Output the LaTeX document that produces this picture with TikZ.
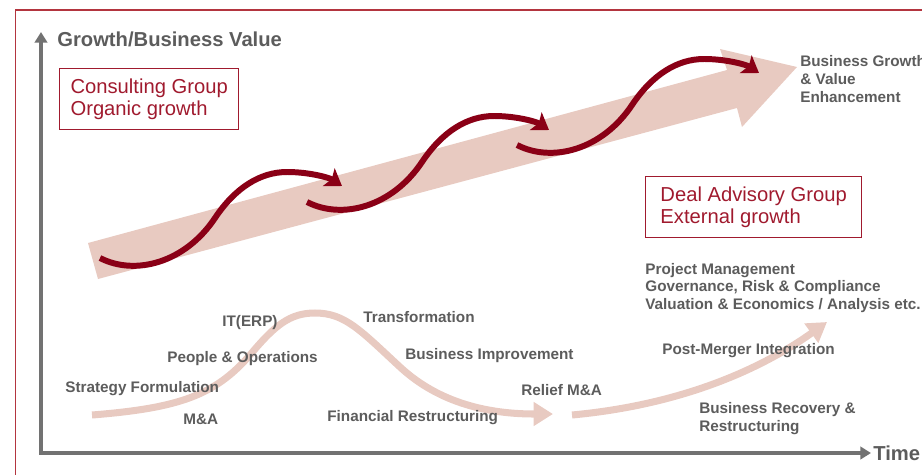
\documentclass[tikz,border=0pt]{standalone}
\usepackage{fontspec}
\setmainfont{Liberation Sans}
\usepackage{xcolor}
\usepackage{tikz}
\usetikzlibrary{positioning,arrows.meta}
\definecolor{wine}{HTML}{8A0016}
\definecolor{blush}{HTML}{E8CAC1}
\definecolor{framered}{HTML}{B3353F}
\definecolor{boxred}{HTML}{A01A2E}
\definecolor{axisgray}{HTML}{727272}
\definecolor{labelgray}{HTML}{5C5C5C}

\begin{document}
\begin{tikzpicture}[x=0.02cm, y=-0.02cm,
  lbl/.style={text=labelgray, font=\fontsize{8.7}{10}\selectfont\bfseries, inner sep=0pt, align=left, anchor=west},
  axisname/.style={text=labelgray, font=\fontsize{11.5}{13}\selectfont\bfseries, inner sep=0pt, anchor=west},
  groupbox/.style={draw=boxred, text=boxred, line width=0.8pt, font=\fontsize{11.5}{13}\selectfont, align=left, minimum height=1.22cm, anchor=north west},
  wave/.style={draw=wine, line width=3.4pt, -{Stealth[length=9pt,width=12pt,inset=2pt]}},
  trend/.style={draw=blush, line width=4pt, -{Triangle[length=11pt,width=13pt]}}]
\useasboundingbox (0,0) rectangle (922,474);

% frame and axes
\draw[framered, line width=0.9pt] (15.5,480) -- (15.5,10) -- (930,10);
\coordinate (orig) at (41,453);
\coordinate (ytop) at (41,32);
\coordinate (xend) at (871,453);
\draw[axisgray, line width=2.3pt, {Triangle[length=6pt,width=7pt]}-{Triangle[length=6pt,width=7pt]}] (ytop) -- (orig) -- (xend);

% big growth arrow
\fill[blush] (88,243) -- (727,70) -- (720,49) -- (797,67) -- (742,127) -- (737,108) -- (98,279) -- cycle;

% waves on top of it
\begin{scope}[shift={(100,258)}]
\draw[wave] (0,0) .. controls (35,18) and (85,5) .. (115,-40) .. controls (135,-70) and (160,-86) .. (187,-86) .. controls (210,-86) and (230,-80) .. (242,-72);
\end{scope}
\begin{scope}[shift={(307,202)}]
\draw[wave] (0,0) .. controls (35,18) and (85,5) .. (115,-40) .. controls (135,-70) and (160,-86) .. (187,-86) .. controls (210,-86) and (230,-80) .. (242,-72);
\end{scope}
\begin{scope}[shift={(517,145)}]
\draw[wave] (0,0) .. controls (35,18) and (85,5) .. (115,-40) .. controls (135,-70) and (160,-86) .. (187,-86) .. controls (210,-86) and (230,-80) .. (242,-72);
\end{scope}

% lower paths
\draw[trend] (92,415) .. controls (180,408) and (215,395) .. (250,355) .. controls (275,325) and (290,313) .. (315,313) .. controls (345,313) and (360,330) .. (400,367) .. controls (440,404) and (490,414) .. (553,414);
\draw[trend] (572,415) .. controls (680,405) and (760,370) .. (827,322);

% names
\node[axisname] (yname) at (57,39) {Growth/Business Value};
\node[axisname, right=0.04cm of xend] (tname) {Time};

\node[groupbox, minimum width=3.58cm] (consult) at (59,68) {Consulting Group\\Organic growth};
\node[groupbox, minimum width=4.32cm] (deal) at (645,176) {Deal Advisory Group\\External growth};

\node[lbl] (value) at (800,79) {Business Growth\\\& Value\\Enhancement};

\node[lbl] (iterp) at (222,323) {IT(ERP)};
\node[lbl] (people) at (167,359) {People \& Operations};
\node[lbl] (strategy) at (65,389) {Strategy Formulation};
\node[lbl] (ma) at (183,419) {M\&A};
\node[lbl] (transf) at (363,317) {Transformation};
\node[lbl] (improve) at (405,356) {Business Improvement};
\node[lbl] (finres) at (327,418) {Financial Restructuring};
\node[lbl] (relief) at (521,390) {Relief M\&A};
\node[lbl] (services) at (645,288) {Project Management\\Governance, Risk \& Compliance\\Valuation \& Economics / Analysis etc.};
\node[lbl] (pmi) at (662,351) {Post-Merger Integration};
\node[lbl] (recovery) at (699,418.5) {Business Recovery \&\\Restructuring};

\end{tikzpicture}
\end{document}
